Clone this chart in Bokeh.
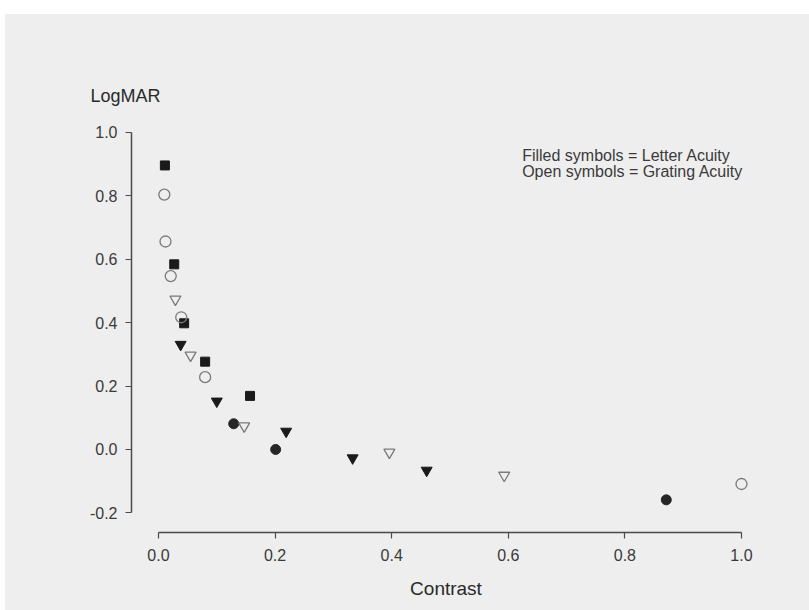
from bokeh.plotting import figure
from bokeh.models import Range1d, LinearAxis, FixedTicker, PrintfTickFormatter, Label
from bokeh.embed import file_html
from bokeh.resources import INLINE

# Letter acuity (filled symbols)
sq_x = [0.011, 0.027, 0.044, 0.080, 0.157]
sq_y = [0.896, 0.584, 0.398, 0.277, 0.169]
ftri_x = [0.038, 0.100, 0.219, 0.333, 0.460]
ftri_y = [0.331, 0.152, 0.057, -0.027, -0.066]
fcirc_x = [0.129, 0.201, 0.871]
fcirc_y = [0.081, 0.000, -0.159]

# Grating acuity (open symbols)
ocirc_x = [0.010, 0.012, 0.021, 0.039, 0.080, 1.000]
ocirc_y = [0.804, 0.656, 0.547, 0.417, 0.228, -0.109]
otri_x = [0.029, 0.055, 0.147, 0.396, 0.593]
otri_y = [0.474, 0.297, 0.074, -0.009, -0.082]

x_ticks = [0.0, 0.2, 0.4, 0.6, 0.8, 1.0]
y_ticks = [-0.2, 0.0, 0.2, 0.4, 0.6, 0.8, 1.0]
x_label = "Contrast"
y_label = "LogMAR"
note_lines = ["Filled symbols = Letter Acuity", "Open symbols = Grating Acuity"]

BG = "#eeeeee"
FONT = "Liberation Sans"

p = figure(width=804, height=596, output_backend="svg", toolbar_location=None,
           x_axis_location=None, y_axis_location=None,
           x_range=Range1d(-0.0463, 1.0326), y_range=Range1d(-0.262, 1.063),
           min_border_left=126, min_border_right=49, min_border_top=98, min_border_bottom=78,
           background_fill_color=None, border_fill_color=BG, outline_line_color=None)
p.margin = (14, 0, 0, 5)
p.styles = {"background-color": BG}
p.grid.visible = False

p.title.text = y_label
p.title.align = "left"
p.title.offset = -41
p.title.standoff = 14
p.title.text_font = FONT
p.title.text_font_size = "18px"
p.title.text_font_style = "normal"
p.title.text_color = "#2a2a2a"

xaxis = LinearAxis(ticker=FixedTicker(ticks=x_ticks), formatter=PrintfTickFormatter(format="%.1f"))
yaxis = LinearAxis(ticker=FixedTicker(ticks=y_ticks), formatter=PrintfTickFormatter(format="%.1f"))
xaxis.bounds = (0, 1)
yaxis.bounds = (-0.2, 1.0)
for ax in (xaxis, yaxis):
    ax.axis_line_color = "#4a4a4a"
    ax.axis_line_width = 1.5
    ax.major_tick_line_color = "#4a4a4a"
    ax.major_tick_line_width = 1.2
    ax.major_tick_out = 6
    ax.major_tick_in = 0
    ax.minor_tick_line_color = None
    ax.major_label_text_font = FONT
    ax.major_label_text_font_size = "16px"
    ax.major_label_text_color = "#3a3a3a"
xaxis.major_label_standoff = 10
yaxis.major_label_standoff = 8
xaxis.axis_label = x_label
xaxis.axis_label_text_font = FONT
xaxis.axis_label_text_font_style = "normal"
xaxis.axis_label_text_font_size = "19px"
xaxis.axis_label_text_color = "#2a2a2a"
xaxis.axis_label_standoff = 14
p.add_layout(xaxis, "below")
p.add_layout(yaxis, "left")

p.scatter(sq_x, sq_y, marker="square", size=9, fill_color="#1a1a1a", line_color="#1a1a1a")
p.scatter(ftri_x, ftri_y, marker="inverted_triangle", size=11, fill_color="#1a1a1a", line_color="#1a1a1a")
p.scatter(fcirc_x, fcirc_y, marker="circle", size=10, fill_color="#262626", line_color="#262626")
p.scatter(ocirc_x, ocirc_y, marker="circle", size=11, fill_color=None, line_color="#7a7a7a", line_width=1.3)
p.scatter(otri_x, otri_y, marker="inverted_triangle", size=11, fill_color=None, line_color="#7a7a7a", line_width=1.3)

p.add_layout(Label(x=0.6238, y=0.927, text=note_lines[0], text_font=FONT, text_font_size="16px",
                   text_color="#3a3a3a", text_baseline="alphabetic"))
p.add_layout(Label(x=0.6238, y=0.877, text=note_lines[1], text_font=FONT, text_font_size="16px",
                   text_color="#3a3a3a", text_baseline="alphabetic"))

open("out.html", "w").write(file_html(p, INLINE))
